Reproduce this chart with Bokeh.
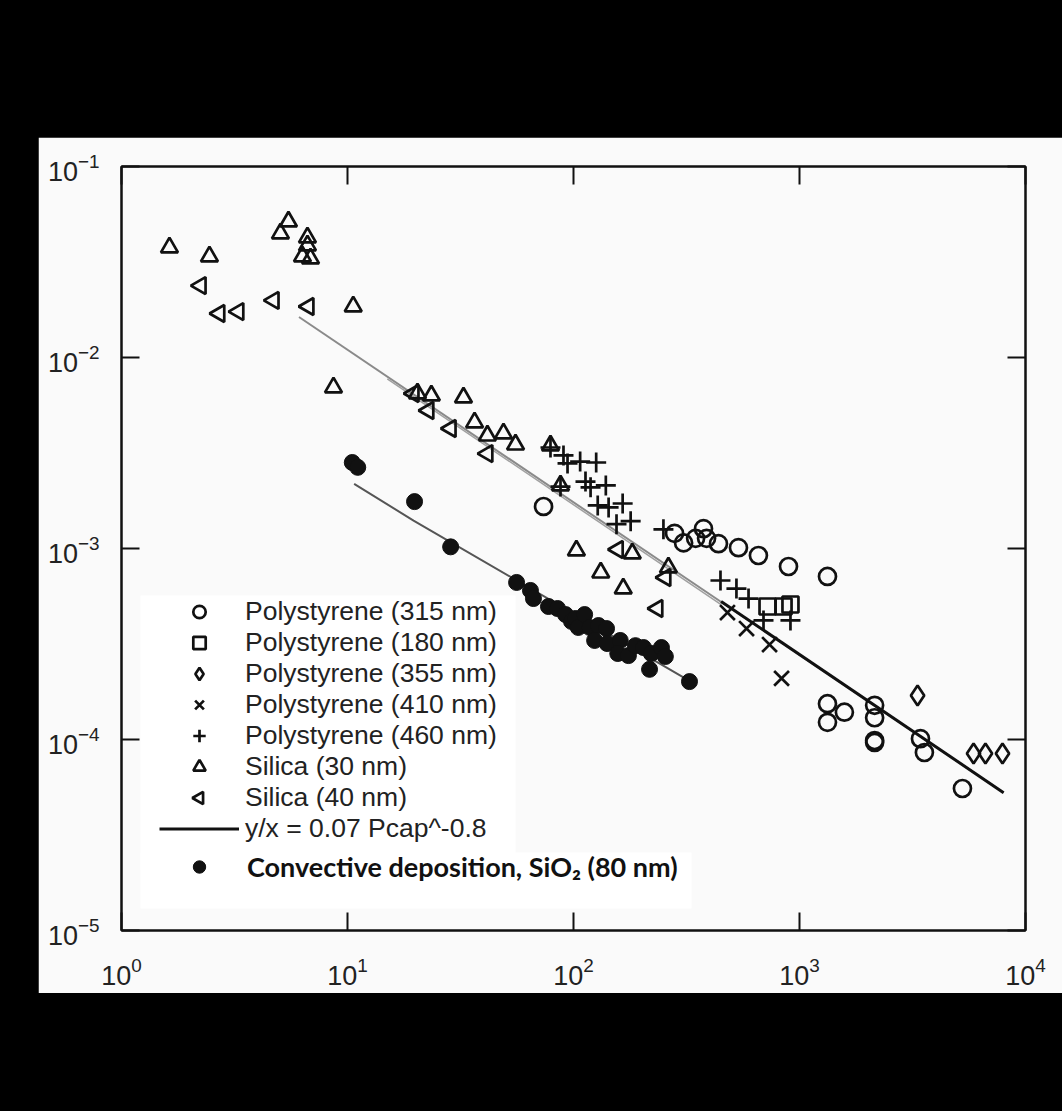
import numpy as np
from bokeh.plotting import figure
from bokeh.models import Legend, LegendItem, LogTicker, LogAxis, Spacer, BoxAnnotation
from bokeh.layouts import column, row
from bokeh.embed import file_html
from bokeh.resources import INLINE

# ---------------- data ----------------
ps315_x = [73.7, 280, 307, 347, 376, 388, 438, 537, 658, 894, 1330, 1330, 1330, 1580,
           2150, 2150, 2150, 2150, 3430, 3570, 5260]
ps315_y = [0.00166, 0.00120, 0.00107, 0.00113, 0.00127, 0.00113, 0.00106, 0.00101, 0.000919,
           0.000805, 0.000714, 0.000154, 0.000123, 0.000139, 0.000151, 0.000130, 0.0000988,
           0.0000965, 0.000101, 0.0000855, 0.0000554]

ps180_x = [722, 850, 912]
ps180_y = [0.000497, 0.000497, 0.000509]

ps355_x = [3330, 5890, 6650, 7910]
ps355_y = [0.000170, 0.0000845, 0.0000845, 0.0000845]

ps410_x = [480, 583, 737, 833]
ps410_y = [0.000462, 0.000381, 0.000314, 0.000209]

ps460_x = [79.1, 90.3, 94.1, 107, 126, 87.6, 113, 119, 139, 128, 143, 165, 155, 179, 250,
           447, 526, 595, 693, 912]
ps460_y = [0.00338, 0.00307, 0.00279, 0.00285, 0.00282, 0.00211, 0.00224, 0.00209, 0.00214,
           0.00168, 0.00164, 0.00172, 0.00134, 0.00139, 0.00126, 0.000680, 0.000617,
           0.000547, 0.000420, 0.000420]

si30_x = [1.63, 2.45, 5.48, 5.05, 6.65, 6.65, 6.32, 6.86, 10.6, 8.67, 20.4, 23.5, 32.6, 36.5,
          41.6, 49.0, 55.4, 79.1, 87.6, 103, 132, 166, 182, 263]
si30_y = [0.0377, 0.0338, 0.0515, 0.0446, 0.0425, 0.0386, 0.0338, 0.0330, 0.0185, 0.00697,
          0.00648, 0.00632, 0.00617, 0.00457, 0.00390, 0.00400, 0.00350, 0.00346, 0.00214,
          0.000976, 0.000748, 0.000617, 0.000941, 0.000795]

si40_x = [2.24, 2.71, 3.29, 4.71, 6.72, 19.6, 22.8, 28.6, 41.6, 157, 255, 235]
si40_y = [0.0238, 0.0170, 0.0174, 0.0199, 0.0185, 0.00648, 0.00528, 0.00425, 0.00314,
          0.000988, 0.000705, 0.000485]

conv_x = [10.5, 11.1, 19.8, 28.6, 56.0, 64.5, 66.5, 77.5, 85.0, 92.2, 98.0, 102, 105, 112,
          118, 129, 140, 124, 141, 161, 157, 175, 188, 204, 221, 245, 255, 217, 326]
conv_y = [0.00282, 0.00266, 0.00176, 0.00102, 0.000664, 0.000603, 0.000547, 0.000497,
          0.000485, 0.000451, 0.000415, 0.000430, 0.000386, 0.000451, 0.000386, 0.000395,
          0.000381, 0.000330, 0.000318, 0.000330, 0.000282, 0.000275, 0.000310, 0.000303,
          0.000282, 0.000303, 0.000272, 0.000233, 0.000201]

# fit y/x = 0.07 Pcap^-0.8 (end points)
fit_x = [6.1, 8000]
fit_y = [0.0163, 0.0000527]
fit2_x = [15, 450]
fit2_y = [0.00773, 0.000509]
fit_black_x = [450, 8000]
fit_black_y = [0.000528, 0.0000527]
# fit through convective deposition data
conv_fit_x = [10.7, 19.6, 323]
conv_fit_y = [0.00218, 0.00140, 0.000204]

labels = ["Polystyrene (315 nm)", "Polystyrene (180 nm)", "Polystyrene (355 nm)",
          "Polystyrene (410 nm)", "Polystyrene (460 nm)", "Silica (30 nm)", "Silica (40 nm)",
          "y/x = 0.07 Pcap^-0.8"]
conv_label = "Convective deposition, SiO\u2082 (80 nm)"

# ---------------- figure ----------------
BG = "#fafafa"
INK = "#111111"
W, H = 1024, 856
BL, BR, BT, BB = 83, 37, 29, 63
X0, X1, Y0, Y1 = 1, 1e4, 1e-5, 1e-1
p = figure(width=W, height=H, x_axis_type="log", y_axis_type="log",
           x_range=(X0, X1), y_range=(Y0, Y1), output_backend="svg",
           toolbar_location=None, min_border_left=BL, min_border_right=BR,
           min_border_top=BT, min_border_bottom=BB)
p.background_fill_color = BG
p.border_fill_color = BG
p.grid.visible = False
p.outline_line_color = INK
p.outline_line_width = 2

p.add_layout(LogAxis(), "above")
p.add_layout(LogAxis(), "right")

for ax in p.xaxis:
    ax.ticker = LogTicker(desired_num_ticks=5)
for ax in p.yaxis:
    ax.ticker = LogTicker(desired_num_ticks=5)

for ax in list(p.xaxis) + list(p.yaxis):
    ax.axis_line_color = INK
    ax.axis_line_width = 2
    ax.major_tick_in = 18
    ax.major_tick_out = 0
    ax.major_tick_line_color = INK
    ax.major_tick_line_width = 2
    ax.minor_tick_line_color = None
    ax.major_label_text_font = "Liberation Sans"
    ax.major_label_text_font_size = "27px"
    ax.major_label_text_color = "#222222"

p.below[0].major_label_standoff = 22
p.left[0].major_label_standoff = 18
for ax in (p.above[0], p.right[0]):
    ax.major_label_text_font_size = "2px"
    ax.major_label_text_color = None
    ax.major_label_standoff = 0

# legend layout (screen px, measured from frame bottom-left)
LEG_X, ROW_H, GLYPH_W = 38, 31, 80
LEG1_Y, LEG2_Y = 86, 47

# white legend backgrounds (under the glyphs)
p.add_layout(BoxAnnotation(left=19, right=394, bottom=60, top=335,
                           left_units="screen", right_units="screen",
                           bottom_units="screen", top_units="screen",
                           fill_color="white", fill_alpha=1.0, line_color=None,
                           level="underlay"))
p.add_layout(BoxAnnotation(left=19, right=570, bottom=22, top=78,
                           left_units="screen", right_units="screen",
                           bottom_units="screen", top_units="screen",
                           fill_color="white", fill_alpha=1.0, line_color=None,
                           level="underlay"))

# fit lines
p.line(fit_x, fit_y, line_color="#8a8a8a", line_width=2)
p.line(fit2_x, fit2_y, line_color="#a0a0a0", line_width=1.5)
r_fit = p.line(fit_black_x, fit_black_y, line_color=INK, line_width=3)
p.line(conv_fit_x, conv_fit_y, line_color="#555555", line_width=2)

LW = 2.7
common = dict(fill_color=None, line_color=INK, line_width=LW)
r315 = p.scatter(ps315_x, ps315_y, marker="circle", size=17, **common)
r180 = p.scatter(ps180_x, ps180_y, marker="square", size=16, **common)
r355 = p.scatter(ps355_x, ps355_y, marker="diamond", size=20, **common)
r410 = p.scatter(ps410_x, ps410_y, marker="x", size=21, **common)
r460 = p.scatter(ps460_x, ps460_y, marker="cross", size=20, line_color=INK, line_width=LW)
r30 = p.scatter(si30_x, si30_y, marker="triangle", size=17, **common)
r40 = p.scatter(si40_x, si40_y, marker="triangle", size=17, angle=np.pi / 2, **common)
rconv = p.scatter(conv_x, conv_y, marker="circle", size=16, fill_color=INK, line_color=INK)
# legend swatch placeholder for the left-pointing triangle (legend ignores marker angle)
r40_dummy = p.scatter([], [], marker="triangle", fill_alpha=0, line_alpha=0)

leg_common = dict(margin=0, padding=0, spacing=0, glyph_width=GLYPH_W, glyph_height=ROW_H,
                  label_height=ROW_H, background_fill_alpha=0.0, border_line_color=None)
leg1 = Legend(items=[LegendItem(label=l, renderers=[r]) for l, r in
                     zip(labels, [r315, r180, r355, r410, r460, r30, r40_dummy, r_fit])],
              location=(LEG_X, LEG1_Y), label_standoff=6,
              label_text_font="Liberation Sans", label_text_font_size="26.5px",
              label_text_color="#222222", **leg_common)
leg2 = Legend(items=[LegendItem(label=conv_label, renderers=[rconv])],
              location=(LEG_X, LEG2_Y), label_standoff=8,
              label_text_font="Lato", label_text_font_style="bold",
              label_text_font_size="27px", label_text_color="#111111", **leg_common)
p.add_layout(leg1)
p.add_layout(leg2)

# left-pointing triangle swatch for legend row 7
fw, fh = W - BL - BR, H - BT - BB
key_sx = LEG_X + GLYPH_W / 2
key_sy = LEG1_Y + ROW_H * 1.5
key_x = 10 ** (np.log10(X0) + (np.log10(X1) - np.log10(X0)) * key_sx / fw)
key_y = 10 ** (np.log10(Y0) + (np.log10(Y1) - np.log10(Y0)) * key_sy / fh)
p.scatter([key_x], [key_y], marker="triangle", size=0.4 * ROW_H, angle=np.pi / 2,
          fill_color=None, line_color=INK, line_width=LW)

page = column(
    Spacer(width=1062, height=137),
    row(Spacer(width=38, height=856), p),
    Spacer(width=1062, height=118),
    styles={"background-color": "black"},
)

open("out.html", "w").write(file_html(page, INLINE))
